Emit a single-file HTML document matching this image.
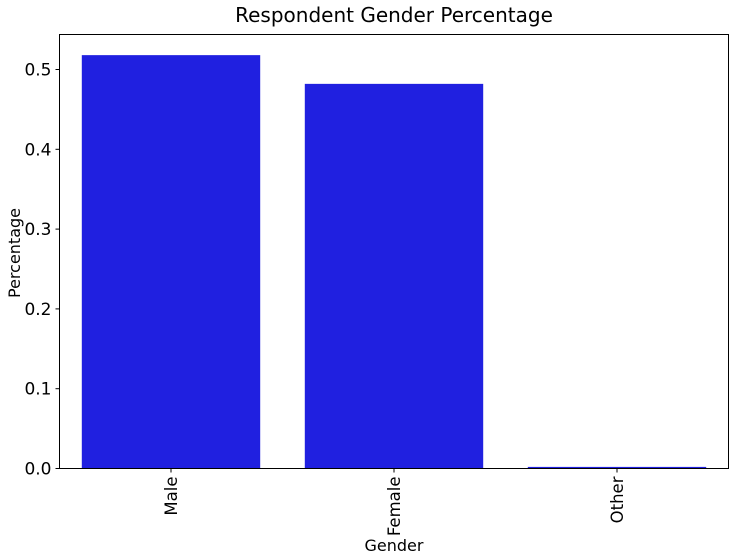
<!DOCTYPE html>
<html><head><meta charset="utf-8"><style>
body{margin:0;background:#fff;}
svg{display:block;font-family:"DejaVu Sans","Liberation Sans",sans-serif;}
</style></head><body>
<svg id="chart" width="735" height="560">
<text x="394" y="22" font-size="20" text-anchor="middle" fill="#000">Respondent Gender Percentage</text>
<g id="plot"></g>
<rect x="59.5" y="34.5" width="669" height="434" fill="none" stroke="#000" stroke-width="1"/>
<text x="394" y="551" font-size="16" text-anchor="middle">Gender</text>
<text transform="translate(20,253) rotate(-90)" font-size="16" text-anchor="middle">Percentage</text>
</svg>
<script>
const categories = ["Male","Female","Other"];
const values = [0.518, 0.482, 0.002];
const yTicks = [0.0,0.1,0.2,0.3,0.4,0.5];
const yTickLabels = ["0.0","0.1","0.2","0.3","0.4","0.5"];
const NS="http://www.w3.org/2000/svg";
const L=59.5,R=728.5,T=34.5,B=468.5;
const y=v=>B-v*798;
const step=(R-L)/categories.length;
const x=i=>L+step*i+step/2;
const g=document.getElementById('plot');
function mk(tag,attrs){const e=document.createElementNS(NS,tag);for(const k in attrs)e.setAttribute(k,attrs[k]);g.appendChild(e);return e;}
categories.forEach((c,i)=>{
  const bw=step*0.8;
  const r=mk('rect',{x:x(i)-bw/2,y:y(values[i]),width:bw,height:B-y(values[i]),fill:'#2020e0'});
  
  
  const t=mk('line',{x1:x(i),x2:x(i),y1:B,y2:B+4,stroke:'#000'});
  
  
  const lb=mk('text',{transform:`translate(${x(i)+6},${B+8}) rotate(-90)`,'font-size':16.5,'text-anchor':'end'});
  lb.textContent=c;
  
  
});
yTicks.forEach((v,i)=>{
  const t=mk('line',{x1:L-4,x2:L,y1:y(v),y2:y(v),stroke:'#000'});
  
  
  const lb=mk('text',{x:L-8,y:y(v)+6,'font-size':17,'text-anchor':'end'});
  lb.textContent=yTickLabels[i];
  
  
});
</script>
</body></html>
